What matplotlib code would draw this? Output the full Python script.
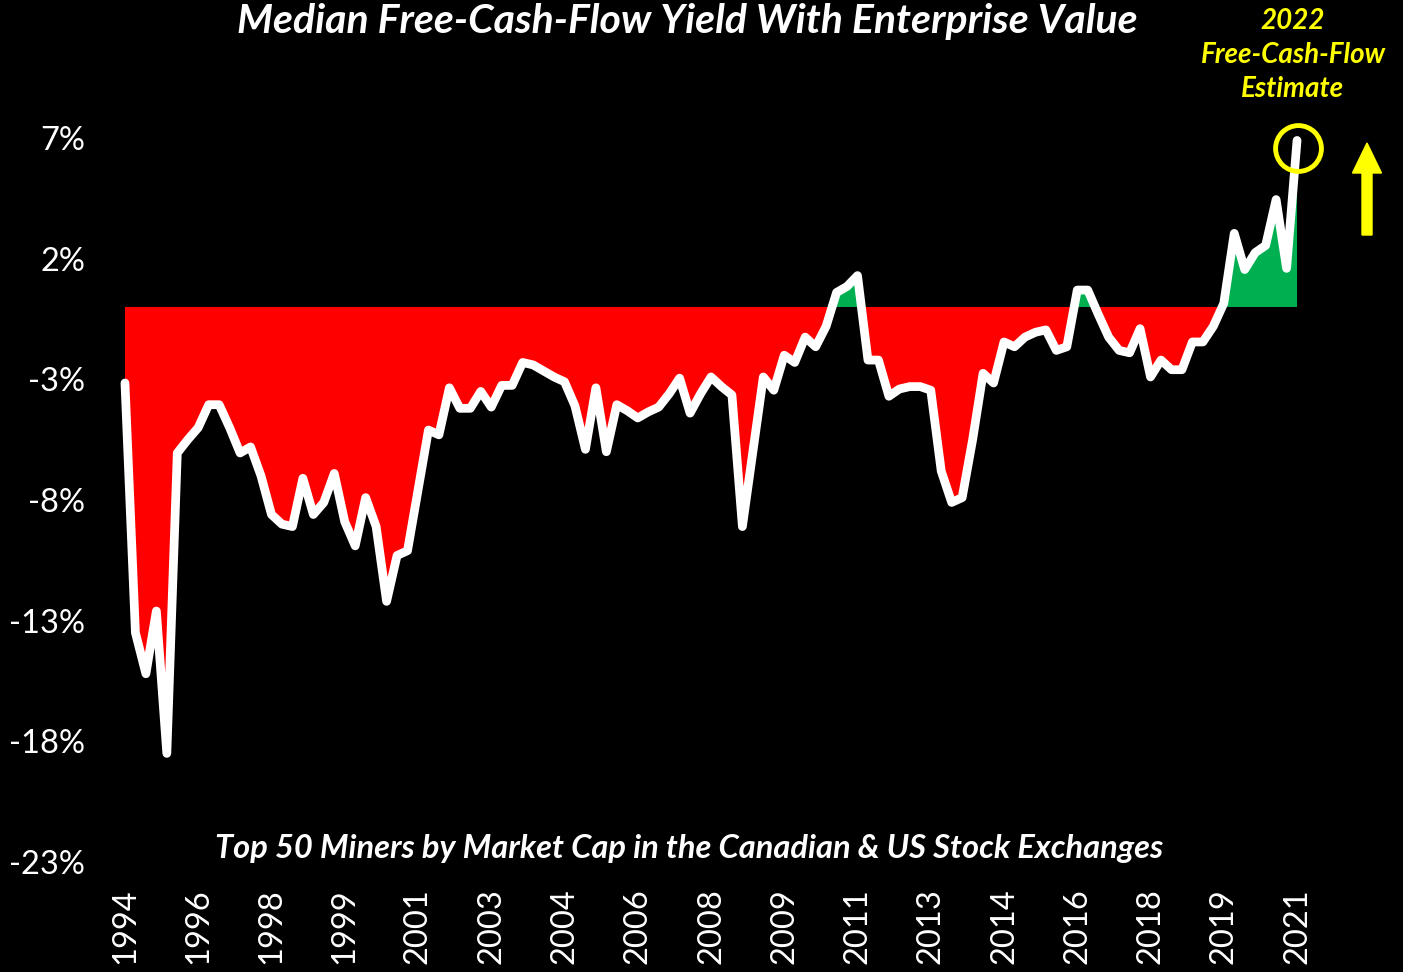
import numpy as np
import matplotlib
matplotlib.use("Agg")
import matplotlib.pyplot as plt
import matplotlib.patches as mpatches

# median FCF yield (%) per period
fcf_yield = [
    -3.15, -13.5, -15.2, -12.6, -18.5, -6.05, -5.5, -5.0, -4.05, -4.05,
    -5.0, -6.05, -5.8, -7.0, -8.6, -9.0, -9.1, -7.1, -8.6, -8.1,
    -6.9, -8.9, -9.9, -7.9, -9.1, -12.2, -10.3, -10.1, -7.6, -5.1,
    -5.3, -3.35, -4.2, -4.2, -3.5, -4.15, -3.25, -3.25, -2.3, -2.4,
    -2.65, -2.9, -3.1, -4.1, -5.9, -3.35, -6.0, -4.05, -4.3, -4.6,
    -4.35, -4.15, -3.6, -2.95, -4.4, -3.6, -2.9, -3.3, -3.65, -9.1,
    -6.0, -2.9, -3.45, -2.0, -2.3, -1.25, -1.65, -0.8, 0.6, 0.85,
    1.3, -2.2, -2.2, -3.7, -3.4, -3.3, -3.3, -3.45, -6.8, -8.1,
    -7.9, -5.5, -2.75, -3.15, -1.45, -1.65, -1.25, -1.05, -0.95, -1.8,
    -1.65, 0.7, 0.7, -0.3, -1.25, -1.8, -1.9, -0.9, -2.9, -2.2,
    -2.6, -2.6, -1.45, -1.45, -0.8, 0.15, 3.05, 1.55, 2.25, 2.55,
    4.45, 1.6, 6.9,
]
year_labels = ["1994", "1996", "1998", "1999", "2001", "2003", "2004", "2006", "2008",
               "2009", "2011", "2013", "2014", "2016", "2018", "2019", "2021"]
label_step = 7
y_ticks = [7, 2, -3, -8, -13, -18, -23]

title = "Median Free-Cash-Flow Yield With Enterprise Value"
subtitle = "Top 50 Miners by Market Cap in the Canadian & US Stock Exchanges"
note = "2022\nFree-Cash-Flow\nEstimate"

yellow = "#FFFF00"
fam = ["Lato", "DejaVu Sans"]

vals = np.array(fcf_yield)
x = np.arange(len(vals))

fig = plt.figure(figsize=(14.03, 9.72), dpi=100, facecolor="black")
W, H = 1403, 972
ax = fig.add_axes([114.5 / W, (H - 862) / H, (1307.5 - 114.5) / W, (862 - 113.9) / H])
ax.set_facecolor("black")

ax.fill_between(x, vals, 0, where=vals < 0, interpolate=True, color="#FF0000", lw=0)
ax.fill_between(x, vals, 0, where=vals >= 0, interpolate=True, color="#00B050", lw=0)
ax.plot(x, vals, color="white", lw=6.3, solid_joinstyle="round", solid_capstyle="round")

# circle around the 2022 estimate
ax.plot(x[-1] + 0.1, vals[-1] - 0.3, "o", mfc="none", mec=yellow, ms=33, mew=3.5, clip_on=False)

ax.set_xlim(-1, 113)
ax.set_ylim(-23, 8)
ax.set_xticks(x[::label_step])
ax.set_xticklabels(year_labels, rotation=90, color="white", fontsize=23.5, family=fam)
ax.set_yticks(y_ticks)
ax.set_yticklabels([f"{t}%" for t in y_ticks], color="white", fontsize=23.5, family=fam)
ax.tick_params(axis="x", length=0, pad=19)
ax.tick_params(axis="y", length=0, pad=21)
for s in ax.spines.values():
    s.set_visible(False)

fig.text(687 / W, 1 - 22 / H, title, ha="center", va="center", color="white",
         fontsize=29.5, fontweight="bold", style="italic", family=fam)
fig.text(689 / W, 1 - 848 / H, subtitle, ha="center", va="center", color="white",
         fontsize=23.5, fontweight="bold", style="italic", family=fam)
fig.text(1293 / W, 1 - 55 / H, note, ha="center", va="center", color=yellow,
         fontsize=20, fontweight="bold", style="italic", family=fam, linespacing=1.4)

arrow = mpatches.FancyArrow(1367 / W, (H - 235) / H, 0, 92 / H, width=10 / W,
                            head_width=29 / W, head_length=30 / H,
                            length_includes_head=True, color=yellow,
                            transform=fig.transFigure)
fig.patches.append(arrow)

fig.savefig("out.png", dpi=100, facecolor="black")
